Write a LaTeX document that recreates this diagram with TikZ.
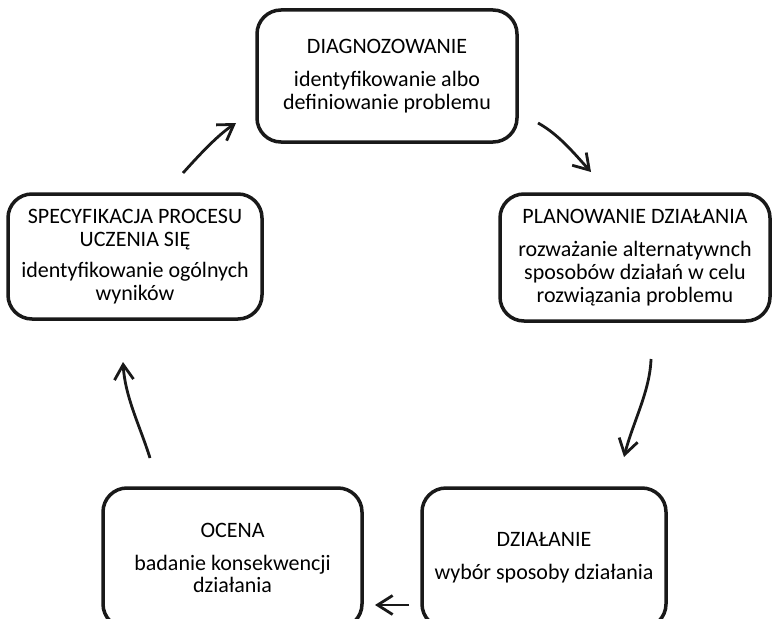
\documentclass[tikz,border=0pt]{standalone}
\usepackage{fontspec}
\setmainfont{Carlito}
\usetikzlibrary{arrows.meta}

\tikzset{
  stage/.style={draw=black!90, line width=3.5pt, rounded corners=24pt,
    align=center, inner sep=0pt, font=\fontsize{22}{22.8}\selectfont},
  flow/.style={draw=black!90, line width=2.8pt,
    -{Straight Barb[length=15pt,width=19pt]}}
}

\begin{document}
\begin{tikzpicture}[x=1pt,y=-1pt]
  \useasboundingbox (0,0) rectangle (773,618);
  \clip (0,0) rectangle (773,618);

  % the five stages of the cycle
  \node[stage, minimum width=260pt, minimum height=132pt] (diag) at (387,76)
    {DIAGNOZOWANIE\\[10pt]identyfikowanie albo\\definiowanie problemu};
  \node[stage, minimum width=270pt, minimum height=127pt] (plan) at (635,257.5)
    {PLANOWANIE DZIAŁANIA\\[10pt]rozważanie alternatywnch\\sposobów działań w celu\\rozwiązania problemu};
  \node[stage, minimum width=244pt, minimum height=140pt] (dzial) at (544,558)
    {DZIAŁANIE\\[10pt]wybór sposoby działania};
  \node[stage, minimum width=259pt, minimum height=140pt] (ocena) at (232.5,558)
    {OCENA\\[10pt]badanie konsekwencji\\działania};
  \node[stage, minimum width=254pt, minimum height=125pt] (spec) at (135,256.5)
    {SPECYFIKACJA PROCESU\\UCZENIA SIĘ\\[8pt]identyfikowanie ogólnych\\wyników};

  % free ends of the arrows between the stages
  \coordinate (s1) at (183,173); \coordinate (e1) at (236,123);
  \coordinate (s2) at (538,123); \coordinate (e2) at (591,172);
  \coordinate (s3) at (651,359); \coordinate (e3) at (624,457);
  \coordinate (s4) at (409,605); \coordinate (e4) at (375,605);
  \coordinate (s5) at (150,458); \coordinate (e5) at (123,362);

  \draw[flow] (s1) .. controls +(18,-20) and +(-18,12) .. (e1);
  \draw[flow] (s2) .. controls +(20,11) and +(-18,-20) .. (e2);
  \draw[flow] (s3) .. controls +(-1,32) and +(9,-35) .. (e3);
  \draw[flow] (s4) -- (e4);
  \draw[flow] (s5) .. controls +(-10,-32) and +(2,35) .. (e5);
\end{tikzpicture}
\end{document}
